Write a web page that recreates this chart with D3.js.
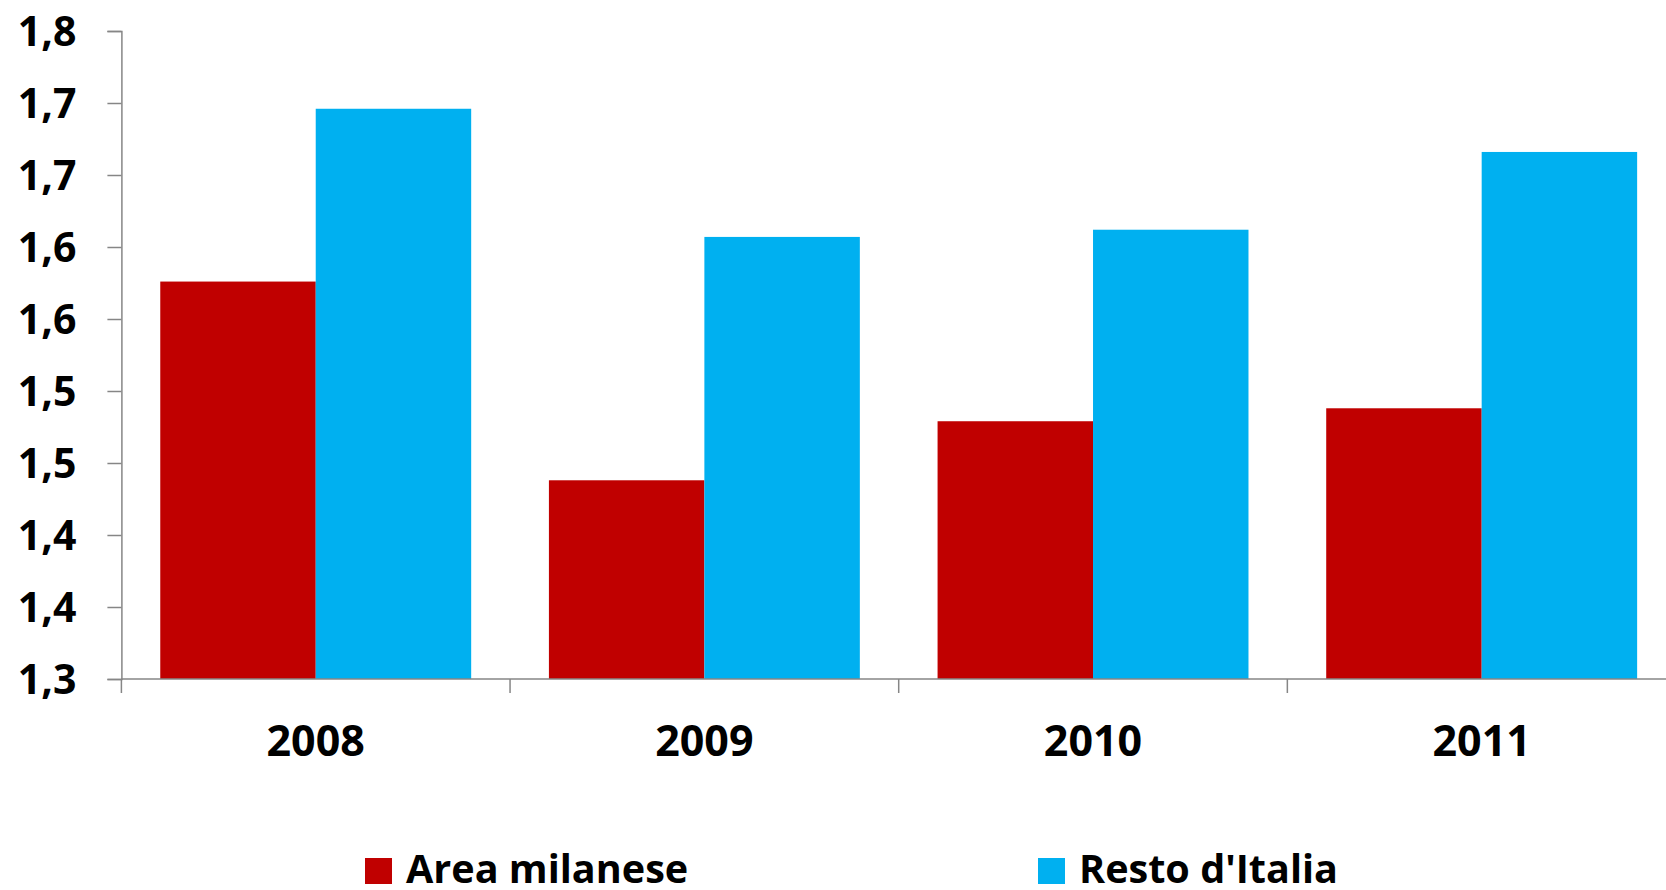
<!DOCTYPE html>
<html>
<head>
<meta charset="utf-8">
<script src="https://cdn.jsdelivr.net/npm/d3@7"></script>
<style>
  html, body { margin: 0; padding: 0; background: #fff; overflow: hidden; }
  svg { display: block; }
  text { font-family: "Open Sans", "Noto Sans", sans-serif; font-weight: 700; fill: #000; }
</style>
</head>
<body>
<svg id="chart" width="1666" height="890"></svg>
<script>
// ---- data ----
const years = ["2008", "2009", "2010", "2011"];
const seriesNames = ["Area milanese", "Resto d'Italia"];
const areaMilanese = [1.576, 1.438, 1.479, 1.488];
const restoItalia = [1.696, 1.607, 1.612, 1.666];
const yTickValues = [1.30, 1.35, 1.40, 1.45, 1.50, 1.55, 1.60, 1.65, 1.70, 1.75];
const yTickLabels = ["1,3", "1,4", "1,4", "1,5", "1,5", "1,6", "1,6", "1,7", "1,7", "1,8"];
const colors = ["#C00000", "#00B0F0"];

// ---- layout ----
const svg = d3.select("#chart");
const axisColor = "#868686";
const x0 = 121.4, x1 = 1676, yTop = 31, yBot = 679;

const x = d3.scaleBand().domain(years).range([x0, x1]).paddingInner(0.2).paddingOuter(0.1);
const xs = d3.scaleBand().domain(seriesNames).range([0, x.bandwidth()]);
const y = d3.scaleLinear().domain([1.30, 1.75]).range([yBot, yTop]);

const table = years.map((yr, i) => ({ year: yr, values: [areaMilanese[i], restoItalia[i]] }));

// bars
const groups = svg.append("g").selectAll("g").data(table).join("g")
  .attr("transform", d => `translate(${x(d.year)},0)`);
groups.selectAll("rect")
  .data(d => d.values.map((v, k) => ({ key: seriesNames[k], v, k })))
  .join("rect")
  .attr("x", d => xs(d.key))
  .attr("width", xs.bandwidth())
  .attr("y", d => y(d.v))
  .attr("height", d => y(1.30) - y(d.v))
  .attr("fill", d => colors[d.k]);

// y axis
const yAxis = d3.axisLeft(y)
  .tickValues(yTickValues)
  .tickFormat((d, i) => yTickLabels[i])
  .tickSize(14)
  .tickPadding(31);
const gy = svg.append("g").attr("transform", `translate(${x0},0)`).call(yAxis);
gy.select(".domain").attr("stroke", axisColor).attr("stroke-width", 1.5);
gy.selectAll(".tick line").attr("stroke", axisColor).attr("stroke-width", 1.5);
gy.selectAll(".tick text")
  .attr("font-size", 41)
  .attr("font-family", "'Open Sans', sans-serif")
  .attr("font-weight", 700)
  .attr("fill", "#000")
  .attr("dy", "0.36em");

// x axis line + boundary ticks
const boundaries = years.map(yr => x(yr) - x.step() * x.paddingInner() / 2)
  .map((b, i) => i === 0 ? x0 : b);
svg.append("line")
  .attr("x1", x0).attr("x2", x1).attr("y1", yBot).attr("y2", yBot)
  .attr("stroke", axisColor).attr("stroke-width", 1.5);
svg.append("g").selectAll("line").data(boundaries).join("line")
  .attr("x1", d => d).attr("x2", d => d)
  .attr("y1", yBot).attr("y2", yBot + 14)
  .attr("stroke", axisColor).attr("stroke-width", 1.5);

// x labels
svg.append("g").selectAll("text").data(years).join("text")
  .attr("x", d => x(d) + x.bandwidth() / 2)
  .attr("y", 756)
  .attr("text-anchor", "middle")
  .attr("font-size", 43)
  .text(d => d);

// legend
const legendX = [365, 1038];
const lg = svg.append("g").selectAll("g").data(seriesNames).join("g")
  .attr("transform", (d, i) => `translate(${legendX[i]},0)`);
lg.append("rect").attr("x", 0).attr("y", 858).attr("width", 27).attr("height", 26)
  .attr("fill", (d, i) => colors[i]);
lg.append("text").attr("x", 41).attr("y", 883).attr("font-size", 39.6).text(d => d);
</script>
</body>
</html>
